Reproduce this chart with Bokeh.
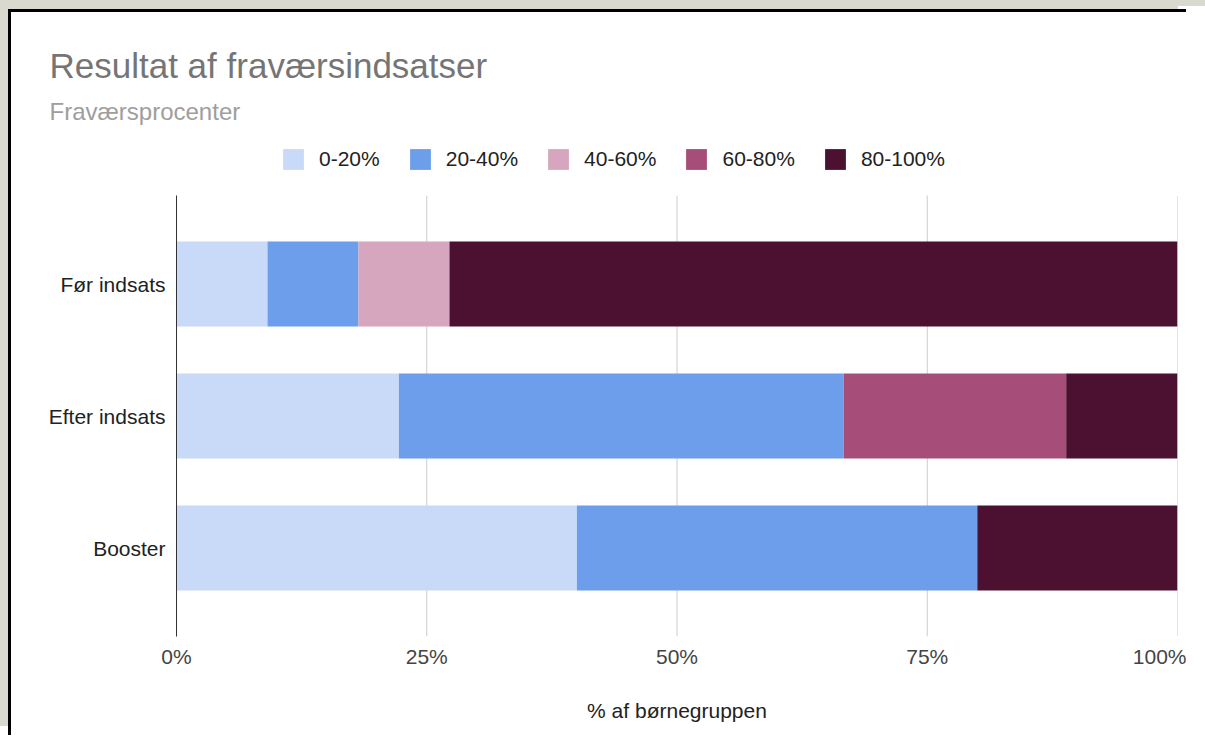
from bokeh.plotting import figure
from bokeh.models import Range1d, FixedTicker, PrintfTickFormatter, Title, ColumnDataSource
from bokeh.embed import file_html
from bokeh.resources import INLINE

# ---- data (percent of the child group) ----
categories = ["Før indsats", "Efter indsats", "Booster"]
bands = ["0-20%", "20-40%", "40-60%", "60-80%", "80-100%"]
band_0_20 = [9.09, 22.22, 40.0]
band_20_40 = [9.09, 44.44, 40.0]
band_40_60 = [9.09, 0.0, 0.0]
band_60_80 = [0.0, 22.22, 0.0]
band_80_100 = [72.73, 11.12, 20.0]
colors = ["#c9daf8", "#6d9eeb", "#d5a6bd", "#a64d79", "#4c1130"]
x_ticks = [0, 25, 50, 75, 100]

title_text = "Resultat af fraværsindsatser"
subtitle_text = "Fraværsprocenter"
x_title = "% af børnegruppen"

FONT = "Liberation Sans"

# category rows: first category on top
n = len(categories)
row_pos = [n - 1 - i for i in range(n)]

source = ColumnDataSource(data={
    "row": row_pos,
    "0-20%": band_0_20,
    "20-40%": band_20_40,
    "40-60%": band_40_60,
    "60-80%": band_60_80,
    "80-100%": band_80_100,
})

# extent of the bar region (row units) and of the frame (which also holds the legend strip)
ROW_LO, ROW_HI = -0.67, (n - 1) + 0.67
FRAME_TOP = 3.163

p = figure(
    width=1178, height=726,
    y_range=Range1d(ROW_LO, FRAME_TOP),
    x_range=Range1d(0, 100),
    output_backend="svg", toolbar_location=None,
    min_border_left=165, min_border_right=12, min_border_top=118, min_border_bottom=102,
    title=None,
)
p.styles = {"margin-left": "8px", "margin-top": "9px",
            "border-left": "3px solid #000", "border-top": "3px solid #000",
            "box-shadow": "-8px -9px 0 0 #dad9d0, 400px -369px 0 -360px #dad9d0, "
                          "400px -363px 0 -363px #000"}
p.outline_line_color = None
p.background_fill_color = "white"
p.border_fill_color = "white"

# vertical grid lines (restricted to the bar region)
p.xgrid.grid_line_color = None
p.ygrid.grid_line_color = None
p.segment(x0=x_ticks, x1=x_ticks, y0=[ROW_LO] * len(x_ticks), y1=[ROW_HI] * len(x_ticks),
          line_color="#cccccc", line_width=1)

p.hbar_stack(bands, y="row", height=0.644, color=colors, line_color=None,
             source=source, legend_label=bands)

# x axis
xa = p.xaxis[0]
xa.ticker = FixedTicker(ticks=x_ticks)
xa.formatter = PrintfTickFormatter(format="%d%%")
xa.axis_line_color = None
xa.major_tick_line_color = None
xa.minor_tick_line_color = None
xa.major_label_text_font = FONT
xa.major_label_text_font_size = "21px"
xa.major_label_text_color = "#444444"
xa.major_label_standoff = 2
xa.axis_label = x_title
xa.axis_label_text_font = FONT
xa.axis_label_text_font_size = "21px"
xa.axis_label_text_font_style = "normal"
xa.axis_label_text_color = "#222222"
xa.axis_label_standoff = 28

# y axis
ya = p.yaxis[0]
ya.ticker = FixedTicker(ticks=row_pos)
ya.major_label_overrides = {r: c for r, c in zip(row_pos, categories)}
ya.bounds = (ROW_LO, ROW_HI)
ya.axis_line_color = "#333333"
ya.axis_line_width = 1
ya.major_tick_line_color = None
ya.minor_tick_line_color = None
ya.major_label_text_font = FONT
ya.major_label_text_font_size = "21px"
ya.major_label_text_color = "#222222"
ya.major_label_standoff = 5

# legend
lg = p.legend[0]
lg.orientation = "horizontal"
lg.location = (104, 464)
lg.glyph_width = 26
lg.glyph_height = 26
lg.label_height = 26
lg.label_standoff = 13
lg.spacing = 27
lg.padding = 0
lg.margin = 0
lg.border_line_color = None
lg.background_fill_alpha = 0
lg.label_text_font = FONT
lg.label_text_font_size = "21px"
lg.label_text_color = "#222222"

# titles
p.add_layout(Title(text=subtitle_text, align="left", offset=-127, standoff=12,
                   text_font=FONT, text_font_size="24px", text_color="#9e9e9e",
                   text_font_style="normal"), "above")
p.add_layout(Title(text=title_text, align="left", offset=-127, standoff=10,
                   text_font=FONT, text_font_size="35px", text_color="#757575",
                   text_font_style="normal"), "above")

open("out.html", "w").write(file_html(p, INLINE))
